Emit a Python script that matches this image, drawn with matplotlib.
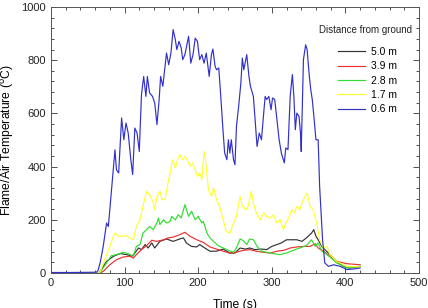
import numpy as np
import matplotlib.pyplot as plt
from matplotlib.ticker import MultipleLocator

plt.rcParams['font.family'] = ['Liberation Sans', 'DejaVu Sans']

# 0.6 m (blue)
t_06 = [0, 30, 62, 64, 67, 71, 75.6, 78, 87, 89, 92, 96, 99, 102, 105, 108, 111, 114, 117, 120,
        123, 126, 129, 131, 134, 138, 141, 144, 147, 149, 152, 155, 157, 160, 163, 166, 169,
        171, 174, 177, 179, 182, 187, 190, 193, 196, 199, 202, 205, 208, 211, 215, 218, 220,
        223, 225, 228, 231, 234, 236, 239, 241, 243, 245, 248, 250, 252, 255, 258, 260, 262,
        266, 269, 271, 275, 278, 280, 283, 286, 289, 291, 293, 296, 299, 301, 304, 307, 310,
        313, 317, 319, 322, 325, 328, 330, 332, 334, 337, 339, 340, 343, 346, 348, 351, 353,
        355, 357, 360, 363, 365, 369, 372, 377, 384, 393, 402, 411, 420]
T_06 = [2, 2, 3, 10, 40, 100, 188, 175, 463, 388, 376, 583, 501, 564, 526, 439, 370, 545, 526, 457,
        670, 739, 664, 739, 677, 664, 639, 558, 652, 739, 702, 777, 827, 783, 827, 915, 877,
        840, 871, 846, 802, 821, 890, 789, 821, 883, 871, 802, 821, 789, 827, 739, 821, 842,
        777, 764, 771, 652, 526, 451, 426, 501, 451, 501, 426, 407, 551, 627, 714, 808, 764,
        821, 739, 702, 664, 551, 476, 526, 501, 601, 664, 652, 664, 614, 658, 652, 576, 501,
        451, 414, 470, 464, 664, 746, 664, 539, 601, 589, 526, 457, 802, 858, 840, 739, 689,
        652, 595, 501, 501, 326, 125, 38, 25, 31, 25, 13, 15, 19]

# 1.7 m (yellow)
t_17 = [0, 30, 65, 67, 73, 80, 85, 87, 92, 96, 103, 107, 112, 116, 121, 125, 130, 134, 139, 141,
        144, 148, 151, 155, 158, 162, 165, 169, 172, 175, 179, 182, 185, 189, 192, 196, 199,
        202, 205, 208, 210, 214, 218, 221, 225, 229, 234, 238, 243, 248, 252, 257, 260, 265,
        268, 272, 275, 279, 284, 289, 293, 298, 302, 307, 311, 316, 319, 323, 327, 331, 334,
        338, 341, 345, 348, 352, 356, 361, 365, 370, 375, 379, 388, 402, 420]
T_17 = [0, 0, 0, 6, 50, 100, 138, 150, 138, 138, 140, 132, 125, 175, 200, 251, 307, 294, 263, 238,
        288, 307, 276, 276, 326, 376, 426, 395, 426, 445, 426, 439, 426, 401, 414, 389, 363,
        376, 351, 457, 426, 313, 288, 320, 276, 251, 200, 157, 150, 188, 213, 288, 251, 238,
        251, 307, 263, 226, 200, 226, 213, 207, 219, 188, 200, 163, 188, 207, 238, 226, 251,
        238, 263, 288, 301, 251, 238, 188, 125, 94, 100, 69, 44, 25, 23]

# 2.8 m (green)
t_28 = [0, 30, 65, 67, 75.6, 82, 89, 98, 105, 112, 116, 121, 125, 130, 134, 139, 144, 146, 148,
        153, 157, 162, 164, 169, 173, 177, 182, 187, 191, 196, 200, 205, 207, 212, 216, 223,
        227, 234, 241, 248, 252, 257, 261, 266, 270, 275, 280, 286, 293, 302, 311, 320, 329,
        338, 347, 354, 359, 363, 368, 372, 379, 388, 402, 420]
T_28 = [0, 0, 0, 3, 38, 65, 69, 78, 73, 63, 100, 107, 150, 163, 175, 163, 188, 207, 182,
        200, 188, 194, 213, 200, 219, 207, 257, 213, 232, 200, 213, 188, 194, 150, 132, 113,
        103, 94, 85, 78, 94, 128, 122, 107, 128, 125, 100, 82, 78, 73, 69, 75, 85,
        94, 103, 125, 100, 113, 82, 75, 60, 38, 19, 25]

# 3.9 m (red)
t_39 = [0, 30, 67, 71, 80, 89, 98, 107, 112, 116, 123, 130, 137, 144, 153, 159, 166, 175, 182,
        189, 198, 207, 216, 225, 234, 243, 252, 261, 270, 279, 288, 298, 307, 316, 325, 334,
        343, 352, 359, 363, 370, 379, 388, 402, 420]
T_39 = [0, 0, 0, 6, 31, 50, 60, 63, 56, 69, 88, 103, 123, 119, 125, 132, 135, 144, 153,
        138, 125, 115, 98, 90, 82, 75, 78, 85, 88, 82, 78, 75, 82, 85, 94, 98,
        100, 100, 110, 94, 82, 63, 44, 35, 31]

# 5.0 m (black)
t_50 = [0, 30, 65, 66.6, 75.6, 85, 94, 103, 110, 114, 119, 123, 128, 132, 137, 141, 148, 157,
        166, 175, 180, 184, 191, 198, 202, 209, 216, 225, 234, 243, 250, 257, 264, 270, 277,
        286, 293, 300, 307, 313, 320, 327, 334, 341, 347, 354, 357, 360, 363, 368, 372, 379,
        388, 397, 406, 420]
T_50 = [0, 0, 0, 6, 44, 63, 73, 69, 63, 75, 94, 88, 107, 94, 113, 94, 119, 128,
        119, 128, 132, 113, 100, 98, 107, 94, 82, 82, 90, 75, 75, 94, 90, 94, 88,
        90, 88, 100, 107, 113, 125, 125, 125, 119, 132, 150, 163, 138, 125, 100, 88, 69,
        44, 25, 19, 25]

series = [
    (t_50, T_50, '#333333', '5.0 m'),
    (t_39, T_39, '#ee3030', '3.9 m'),
    (t_28, T_28, '#30dd30', '2.8 m'),
    (t_17, T_17, '#ffff30', '1.7 m'),
    (t_06, T_06, '#3030cc', '0.6 m'),
]

fig = plt.figure(figsize=(4.28, 3.08), dpi=100)
ax = fig.add_axes([0.119, 0.1136, 0.860, 0.8636])

for t, T, c, lab in series:
    ax.plot(t, T, color=c, lw=0.85, label=lab)

ax.set_xlim(0, 500)
ax.set_ylim(0, 1000)
ax.xaxis.set_major_locator(MultipleLocator(100))
ax.xaxis.set_minor_locator(MultipleLocator(20))
ax.yaxis.set_major_locator(MultipleLocator(200))
ax.yaxis.set_minor_locator(MultipleLocator(40))
ax.tick_params(which='both', direction='in', top=True, right=True, labelsize=8,
               width=0.6, colors='#333333', labelcolor='#222222')
ax.tick_params(which='major', length=4)
ax.tick_params(which='minor', length=2)
for s in ax.spines.values():
    s.set_linewidth(0.7)
    s.set_color('#555555')

ax.set_xlabel('Time (s)', fontsize=8.7, labelpad=8)
ax.set_ylabel('Flame/Air Temperature ($^{\\mathrm{o}}$C)', fontsize=8.7, labelpad=4)

ax.text(0.98, 0.915, 'Distance from ground', transform=ax.transAxes, ha='right',
        va='center', fontsize=7, color='#222222')
ax.legend(loc='upper right', bbox_to_anchor=(0.955, 0.87), frameon=False, fontsize=7.5,
          handlelength=2.6, handletextpad=0.55, labelspacing=0.42, borderpad=0)

fig.savefig('out.png', dpi=100)
